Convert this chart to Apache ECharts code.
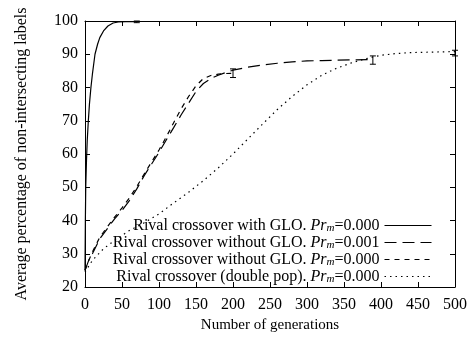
<!DOCTYPE html>
<html>
<head>
<meta charset="utf-8">
<script src="https://cdn.jsdelivr.net/npm/echarts@6/dist/echarts.min.js"></script>
<style>html,body{margin:0;padding:0;background:#fff}#c{width:472px;height:339px}</style>
</head>
<body>
<div id="c"></div>
<script>
// Rival crossover with GLO, Pr_m=0.000
var gloX = [0, 0.5, 1, 2, 3, 4.5, 6, 8, 10, 13.5, 17, 20, 25, 31, 38, 45, 55, 70];
var gloY = [25, 40, 50, 58, 64, 70, 75, 80, 84, 90, 93, 95, 97, 98.5, 99.4, 99.7, 99.8, 99.8];
// Rival crossover without GLO, Pr_m=0.001
var noGlo1X = [0, 5, 10, 20, 30, 40, 50, 60, 70, 80, 90, 100, 110, 120, 130, 140, 150, 160, 170, 180, 190, 200, 220, 240, 260, 280, 300, 320, 340, 360, 389];
var noGlo1Y = [25, 28, 30, 34.5, 37.5, 40.5, 43, 46, 49.5, 53.5, 57, 60.5, 64.3, 68, 71.8, 75.3, 78.8, 81.2, 82.7, 83.7, 84.5, 85.2, 86.1, 86.8, 87.3, 87.7, 88, 88.1, 88.2, 88.3, 88.4];
// Rival crossover without GLO, Pr_m=0.000
var noGlo0X = [0, 5, 10, 20, 30, 40, 50, 60, 70, 80, 90, 100, 110, 120, 130, 140, 150, 160, 170, 180, 190, 200];
var noGlo0Y = [25, 28, 30.5, 35, 38, 41, 43.8, 46.8, 50.2, 54, 57.6, 61.2, 65.2, 69.5, 73.6, 77.3, 80.5, 82.7, 83.6, 84, 84.2, 84.3];
// Rival crossover (double pop), Pr_m=0.000
var dblX = [0, 10, 25, 40, 60, 80, 100, 120, 140, 160, 180, 200, 220, 240, 260, 280, 300, 320, 340, 360, 380, 400, 420, 440, 460, 480, 500];
var dblY = [24.5, 28, 31.5, 34, 37, 39.3, 42, 45.3, 48.5, 52, 55.8, 60, 64.5, 69, 73.4, 77.3, 80.8, 83.7, 85.8, 87.4, 88.7, 89.7, 90.2, 90.5, 90.6, 90.7, 90.8];
// error bars: [x, low, high]
var errBars = [[70, 99.5, 100], [200, 83, 85.6], [389, 87, 89.5], [500, 89.5, 91.2]];

var seriesNames = [
  'Rival crossover with GLO. Pr_m=0.000',
  'Rival crossover without GLO. Pr_m=0.001',
  'Rival crossover without GLO. Pr_m=0.000',
  'Rival crossover (double pop). Pr_m=0.000'
];
var xTicks = [0, 50, 100, 150, 200, 250, 300, 350, 400, 450, 500];
var yTicks = [20, 30, 40, 50, 60, 70, 80, 90, 100];

function zip(xs, ys) { return xs.map(function (x, i) { return [x, ys[i]]; }); }

var FONT = 'Liberation Serif';
var FS = 16;
var chart = echarts.init(document.getElementById('c'), null, {renderer: 'canvas'});

function lineSeries(name, data, dash) {
  return {
    name: name, type: 'line', data: data, showSymbol: false, symbol: 'none', smooth: false,
    xAxisIndex: 0, yAxisIndex: 0,
    lineStyle: {color: '#000', width: 1.2, type: dash},
    itemStyle: {color: '#000'},
    emphasis: {disabled: true}, animation: false, z: 3
  };
}

var axisCommon = {
  axisLine: {show: true, onZero: false, lineStyle: {color: '#000', width: 1}},
  axisTick: {show: true, inside: true, length: 5, lineStyle: {color: '#000'}},
  splitLine: {show: false}
};

chart.setOption({
  animation: false,
  backgroundColor: '#fff',
  grid: {left: 85, right: 17, top: 21, bottom: 52, containLabel: false},
  xAxis: [
    Object.assign({type: 'value', min: 0, max: 500, interval: 50, position: 'bottom',
      name: 'Number of generations', nameLocation: 'middle', nameGap: 31,
      nameTextStyle: {fontFamily: FONT, fontSize: 15, color: '#000'},
      axisLabel: {fontFamily: FONT, fontSize: FS, color: '#000', margin: 10,
        formatter: function (v) { return xTicks.indexOf(v) >= 0 ? String(v) : ''; }}
    }, axisCommon),
    Object.assign({type: 'value', min: 0, max: 500, interval: 50, position: 'top',
      axisLabel: {show: false}}, axisCommon)
  ],
  yAxis: [
    Object.assign({type: 'value', min: 20, max: 100, interval: 10, position: 'left',
      name: 'Average percentage of non-intersecting labels', nameLocation: 'middle', nameGap: 55,
      nameTextStyle: {fontFamily: FONT, fontSize: FS, color: '#000'},
      axisLabel: {fontFamily: FONT, fontSize: FS, color: '#000', margin: 7,
        formatter: function (v) { return yTicks.indexOf(v) >= 0 ? String(v) : ''; }}
    }, axisCommon),
    Object.assign({type: 'value', min: 20, max: 100, interval: 10, position: 'right',
      axisLabel: {show: false}}, axisCommon)
  ],
  legend: {
    orient: 'vertical', align: 'right', right: 35, top: 212, itemGap: 0,
    itemWidth: 47, itemHeight: 14,
    itemStyle: {opacity: 0},
    lineStyle: {width: 1},
    data: seriesNames,
    formatter: function (n) {
      var parts = n.split('Pr_m');
      return '{a|' + parts[0] + '}{i|Pr}{s|m}{a|' + parts[1] + '}';
    },
    textStyle: {
      fontFamily: FONT, fontSize: FS, color: '#000',
      rich: {
        a: {fontFamily: FONT, fontSize: FS, color: '#000', lineHeight: 17},
        i: {fontFamily: FONT, fontSize: FS, color: '#000', fontStyle: 'italic', lineHeight: 17},
        s: {fontFamily: FONT, fontSize: 11, color: '#000', fontStyle: 'italic', lineHeight: 11, padding: [6, 0, 0, 0]}
      }
    }
  },
  series: [
    lineSeries(seriesNames[0], zip(gloX, gloY), 'solid'),
    lineSeries(seriesNames[1], zip(noGlo1X, noGlo1Y), [12, 6]),
    lineSeries(seriesNames[2], zip(noGlo0X, noGlo0Y), [5, 5]),
    lineSeries(seriesNames[3], zip(dblX, dblY), [1.5, 4]),
    {
      type: 'custom', name: 'err', data: errBars, z: 4, silent: true,
      renderItem: function (params, api) {
        var x = api.value(0), lo = api.value(1), hi = api.value(2);
        var p1 = api.coord([x, lo]), p2 = api.coord([x, hi]);
        var w = 3;
        var st = {stroke: '#000', lineWidth: 1};
        return {type: 'group', children: [
          {type: 'line', shape: {x1: p1[0], y1: p1[1], x2: p2[0], y2: p2[1]}, style: st},
          {type: 'line', shape: {x1: p1[0] - w, y1: p1[1], x2: p1[0] + w, y2: p1[1]}, style: st},
          {type: 'line', shape: {x1: p2[0] - w, y1: p2[1], x2: p2[0] + w, y2: p2[1]}, style: st}
        ]};
      }
    }
  ]
});
</script>
</body>
</html>
